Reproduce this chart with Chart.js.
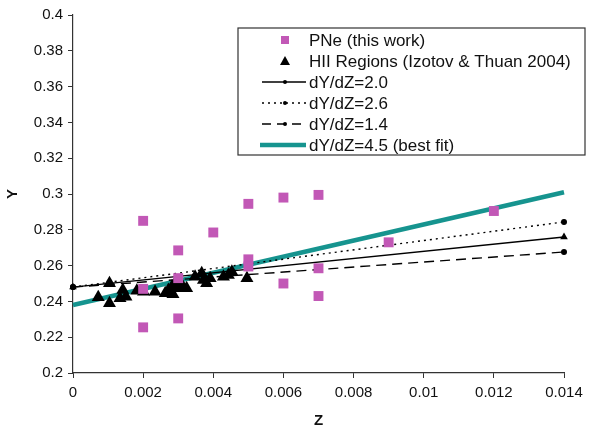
<!DOCTYPE html>
<html>
<head>
<meta charset="utf-8">
<script src="https://cdn.jsdelivr.net/npm/chart.js@4.4.0/dist/chart.umd.min.js"></script>
<style>
  html, body { margin: 0; padding: 0; background: #fff; }
  #wrap { width: 593px; height: 427px; position: relative; }
</style>
</head>
<body>
<div id="wrap"><canvas id="chart"></canvas></div>
<script>
// PNe (this work)
const pneZ = [0.002, 0.002, 0.002, 0.003, 0.003, 0.003, 0.004, 0.005, 0.005, 0.005, 0.006, 0.006, 0.007, 0.007, 0.007, 0.009, 0.012];
const pneY = [0.285, 0.247, 0.2255, 0.2685, 0.253, 0.2305, 0.2785, 0.2945, 0.2635, 0.2595, 0.298, 0.2500, 0.2995, 0.2585, 0.243, 0.273, 0.2905];

// HII regions (Izotov & Thuan 2004)
const hiiZ = [0.00072, 0.00104, 0.00104, 0.00134, 0.00142, 0.00151, 0.00182, 0.00201, 0.00234, 0.00263, 0.00272, 0.00282, 0.00291, 0.00298, 0.00305, 0.00324, 0.00348, 0.00367, 0.00372, 0.00381, 0.00391, 0.00429, 0.00443, 0.00453, 0.00496, 0.00285, 0.00310];
const hiiY = [0.2423, 0.2501, 0.2389, 0.2417, 0.2464, 0.2426, 0.2460, 0.2454, 0.2454, 0.2445, 0.2464, 0.2482, 0.2501, 0.2473, 0.2510, 0.2473, 0.2538, 0.2557, 0.2520, 0.2501, 0.2529, 0.2538, 0.2547, 0.2566, 0.2529, 0.2440, 0.2490];

// model lines Y = Yp + dY/dZ * Z, end points
const lineZ = [0, 0.014];
const line20 = [0.248, 0.276];
const line26 = [0.248, 0.2844];
const line14 = [0.248, 0.2676];
const line45 = [0.238, 0.301];

const xTicks = [0, 0.002, 0.004, 0.006, 0.008, 0.01, 0.012, 0.014];
const yTicks = [0.2, 0.22, 0.24, 0.26, 0.28, 0.3, 0.32, 0.34, 0.36, 0.38, 0.4];

const legendLabels = ['PNe (this work)', 'HII Regions (Izotov & Thuan 2004)', 'dY/dZ=2.0', 'dY/dZ=2.6', 'dY/dZ=1.4', 'dY/dZ=4.5 (best fit)'];

const PINK = '#c258b6';
const TEAL = '#16948f';
const FONT = "'Liberation Sans', Arial, sans-serif";

const pts = (xs, ys) => xs.map((x, i) => ({ x: x, y: ys[i] }));

// legend drawn as a boxed panel like the original
const boxLegend = {
  id: 'boxLegend',
  afterDraw(chart) {
    const ctx = chart.ctx;
    ctx.save();
    ctx.fillStyle = '#fff';
    ctx.fillRect(238, 28, 347, 127);
    ctx.strokeStyle = '#333';
    ctx.lineWidth = 1.2;
    ctx.strokeRect(238, 28, 347, 127);
    ctx.font = '17px ' + FONT;
    ctx.textBaseline = 'middle';
    const sx = 285;
    legendLabels.forEach((label, i) => {
      const y = 40 + i * 21;
      ctx.fillStyle = '#111';
      ctx.fillText(label, 309, y + 1);
      if (i === 0) {
        ctx.fillStyle = PINK;
        ctx.fillRect(sx - 4, y - 4, 8, 8);
      } else if (i === 1) {
        ctx.fillStyle = '#000';
        ctx.beginPath();
        ctx.moveTo(sx, y - 5);
        ctx.lineTo(sx + 5, y + 4);
        ctx.lineTo(sx - 5, y + 4);
        ctx.closePath();
        ctx.fill();
      } else {
        ctx.beginPath();
        ctx.strokeStyle = i === 5 ? TEAL : '#000';
        ctx.lineWidth = i === 5 ? 4.5 : 1.5;
        ctx.setLineDash(i === 3 ? [2, 4] : i === 4 ? [9, 6] : []);
        ctx.moveTo(i === 5 ? 260 : 262, y);
        ctx.lineTo(306, y);
        ctx.stroke();
        ctx.setLineDash([]);
        if (i !== 5) {
          ctx.fillStyle = '#000';
          ctx.beginPath();
          ctx.arc(sx, y, 2, 0, Math.PI * 2);
          ctx.fill();
        }
      }
    });
    ctx.restore();
  }
};

const lineSet = (label, ys, dash, style) => ({
  label: label,
  data: pts(lineZ, ys),
  showLine: true,
  borderColor: '#000',
  backgroundColor: '#000',
  borderWidth: 1.4,
  borderDash: dash,
  pointStyle: style,
  pointRadius: style === 'triangle' ? 3 : 2.3,
  clip: false
});

new Chart(document.getElementById('chart'), {
  type: 'scatter',
  data: {
    datasets: [
      {
        label: legendLabels[0],
        data: pts(pneZ, pneY),
        pointStyle: 'rect',
        pointRadius: 7,
        backgroundColor: PINK,
        borderWidth: 0,
        clip: false
      },
      {
        label: legendLabels[1],
        data: pts(hiiZ, hiiY),
        pointStyle: 'triangle',
        pointRadius: 7.5,
        backgroundColor: '#000',
        borderWidth: 0,
        clip: false
      },
      lineSet(legendLabels[2], line20, [], 'triangle'),
      lineSet(legendLabels[3], line26, [2, 4], 'circle'),
      lineSet(legendLabels[4], line14, [10, 6], 'circle'),
      {
        label: legendLabels[5],
        data: pts(lineZ, line45),
        showLine: true,
        borderColor: TEAL,
        borderWidth: 4.5,
        pointRadius: 0,
        clip: false
      }
    ]
  },
  options: {
    responsive: true,
    maintainAspectRatio: false,
    animation: false,
    layout: { padding: { left: 0, right: 29, top: 15, bottom: 0 } },
    plugins: {
      legend: { display: false },
      tooltip: { enabled: false }
    },
    scales: {
      x: {
        type: 'linear',
        min: 0,
        max: 0.014,
        afterBuildTicks: (s) => { s.ticks = xTicks.map(v => ({ value: v })); },
        afterFit: (s) => { s.height = 54; },
        ticks: {
          color: '#111',
          font: { family: FONT, size: 15 },
          padding: 6,
          maxRotation: 0,
          callback: (v) => String(Number(v.toFixed(3)))
        },
        grid: { drawOnChartArea: false, drawTicks: true, tickLength: 5, color: '#333' },
        border: { display: true, color: '#333', width: 1.2 },
        title: {
          display: true,
          text: 'Z',
          color: '#111',
          font: { family: FONT, size: 15, weight: 'bold' },
          padding: { top: 0, bottom: -3 }
        }
      },
      y: {
        type: 'linear',
        min: 0.2,
        max: 0.4,
        afterBuildTicks: (s) => { s.ticks = yTicks.map(v => ({ value: v })); },
        afterFit: (s) => { s.width = 73; },
        ticks: {
          color: '#111',
          font: { family: FONT, size: 15 },
          padding: 5,
          callback: (v) => String(Number(v.toFixed(3)))
        },
        grid: { drawOnChartArea: false, drawTicks: true, tickLength: 5, color: '#333' },
        border: { display: true, color: '#333', width: 1.2 },
        title: {
          display: true,
          text: 'Y',
          color: '#111',
          font: { family: FONT, size: 15, weight: 'bold' },
          padding: { top: 4, bottom: 0 }
        }
      }
    }
  },
  plugins: [boxLegend]
});
</script>
</body>
</html>
